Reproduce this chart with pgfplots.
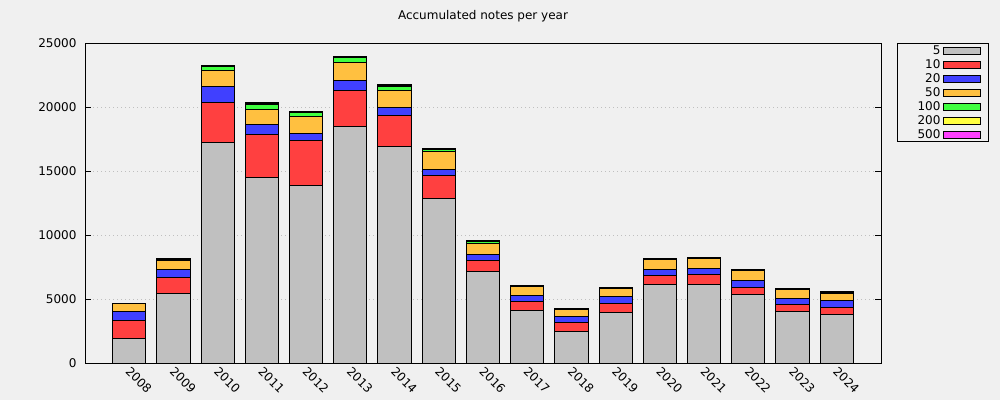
\documentclass[border=0pt]{standalone}
\usepackage{fontspec}
\setmainfont{DejaVu Sans}
\usepackage{pgfplots}
\pgfplotsset{compat=1.18}
\usepackage{pgfplotstable}

\definecolor{bg}{HTML}{F0F0F0}
\definecolor{cfive}{HTML}{C0C0C0}
\definecolor{cten}{HTML}{FF4040}
\definecolor{ctwenty}{HTML}{4040FF}
\definecolor{cfifty}{HTML}{FFC040}
\definecolor{chundred}{HTML}{40FF40}
\definecolor{ctwohundred}{HTML}{FFFF40}
\definecolor{cfivehundred}{HTML}{FF40FF}

% notes per year, by denomination
\pgfplotstableread{
x  year n5    n10  n20  n50  n100 n200 n500
0  2008 1930  1400 700  650  0    0    0
1  2009 5450  1250 620  680  100  60   30
2  2010 17250 3120 1250 1250 310  70   30
3  2011 14500 3370 780  1170 390  80   40
4  2012 13830 3570 550  1330 260  70   30
5  2013 18490 2820 780  1400 400  40   20
6  2014 16930 2420 630  1330 310  70   30
7  2015 12870 1800 470  1400 130  50   25
8  2016 7160  860  470  860  130  40   20
9  2017 4120  700  470  650  50   20   10
10 2018 2470  700  470  550  30   15   10
11 2019 3960  700  550  620  60   30   15
12 2020 6150  700  470  780  70   20   10
13 2021 6150  780  470  730  50   20   10
14 2022 5370  550  550  720  50   20   10
15 2023 4040  550  470  650  50   20   10
16 2024 3800  550  550  550  60   30   15
}\notes

\begin{document}
\begin{tikzpicture}[font=\fontsize{12}{14}\selectfont]
\fill[bg] (0,0) rectangle (1000pt,400pt);
\useasboundingbox (0,0) rectangle (1000pt,400pt);
\begin{axis}[
    at={(85pt,37pt)}, anchor=south west,
    scale only axis, width=796pt, height=320pt,
    ybar stacked, bar width=0.75,
    xmin=-1, xmax=17,
    ymin=0, ymax=25000,
    xtick={0,...,16},
    xticklabels={2008,2009,2010,2011,2012,2013,2014,2015,2016,2017,2018,2019,2020,2021,2022,2023,2024},
    ytick={0,5000,10000,15000,20000,25000},
    scaled y ticks=false,
    /pgf/number format/1000 sep={},
    /pgf/number format/assume math mode=true,
    tick label style={font=\fontsize{12}{14}\selectfont},
    xticklabel style={xshift=2pt, yshift=-3pt, rotate=-45, anchor=north west, inner sep=0pt},
    yticklabel style={xshift=-5pt},
    xtick style={draw=none},
    tick align=inside, major tick length=6pt,
    ytick style={line width=1pt, black},
    axis line style={line width=1pt},
    ymajorgrids,
    major grid style={line width=1pt, color=black!25, dash pattern=on 1pt off 3pt},
    title={Accumulated notes per year},
    title style={at={(0.5,1)}, anchor=center, yshift=21pt, font=\fontsize{12}{14}\selectfont},
    every axis plot/.append style={draw=black, line width=1pt},
    every axis plot post/.append style={legend image code/.code={\draw[##1, line width=1pt] (0pt,-3.5pt) rectangle (37pt,3.5pt);}},
    legend plot pos=right,
    legend cell align=right,
    legend style={at={(1,1)}, anchor=north west, xshift=16pt,
        draw=black, line width=1pt, fill=bg,
        font=\fontsize{12}{14}\selectfont,
        inner xsep=7pt, inner ysep=0pt, row sep=0pt,
        nodes={inner xsep=2.6pt, inner ysep=2pt, text width=33.4pt, align=right, text height=9pt, text depth=1pt},
        /tikz/every even column/.append style={column sep=2.4pt}},
]
\addplot[fill=cfive] table[x=x, y=n5] {\notes};
\addlegendentry{5}
\addplot[fill=cten] table[x=x, y=n10] {\notes};
\addlegendentry{10}
\addplot[fill=ctwenty] table[x=x, y=n20] {\notes};
\addlegendentry{20}
\addplot[fill=cfifty] table[x=x, y=n50] {\notes};
\addlegendentry{50}
\addplot[fill=chundred] table[x=x, y=n100] {\notes};
\addlegendentry{100}
\addplot[fill=ctwohundred] table[x=x, y=n200] {\notes};
\addlegendentry{200}
\addplot[fill=cfivehundred] table[x=x, y=n500] {\notes};
\addlegendentry{500}
\end{axis}
\end{tikzpicture}
\end{document}
